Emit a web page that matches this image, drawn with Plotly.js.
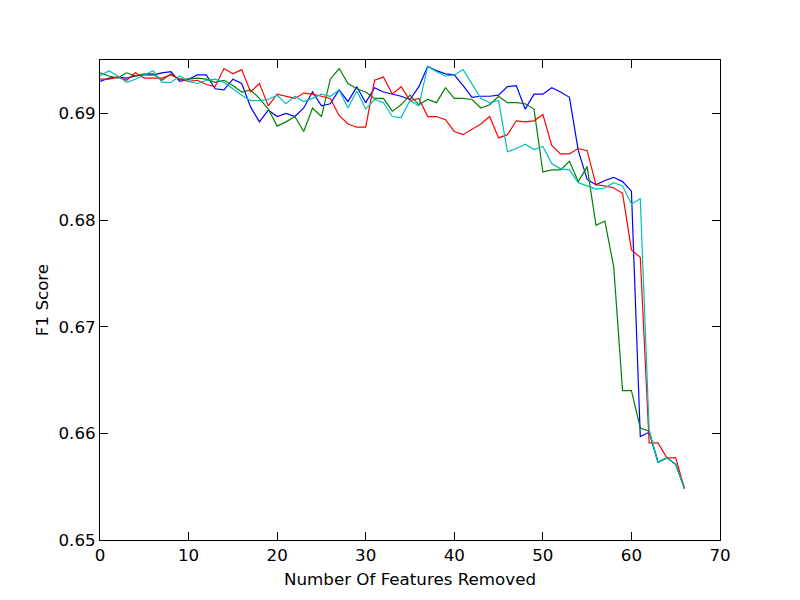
<!DOCTYPE html>
<html>
<head>
<meta charset="utf-8">
<script src="https://cdn.plot.ly/plotly-3.0.1.min.js"></script>
<style>body{margin:0;padding:0;background:#fff;}#chart{width:800px;height:600px;}</style>
</head>
<body>
<div id="chart"></div>
<script>
const featuresRemoved = Array.from({length: 67}, (_, i) => i);

const blueScores = [0.6930,0.6933,0.6934,0.6933,0.6935,0.6936,0.6936,0.6938,0.6939,0.6930,
  0.6932,0.6936,0.6936,0.6923,0.6922,0.6932,0.6928,0.6906,0.6892,0.6903,
  0.6897,0.6900,0.6897,0.6905,0.6920,0.6907,0.6909,0.6922,0.6911,0.6925,
  0.6910,0.6924,0.6920,0.6918,0.6916,0.6913,0.6925,0.6944,0.6940,0.6937,
  0.6936,0.6926,0.6915,0.6916,0.6916,0.6917,0.6925,0.6926,0.6904,0.6918,
  0.6918,0.6924,0.6920,0.6915,0.6865,0.6838,0.6833,0.6837,0.6840,0.6836,
  0.6827,0.6597,0.6601,0.6573,0.6577,0.6571,0.6548];

const greenScores = [0.6938,0.6935,0.6933,0.6938,0.6935,0.6937,0.6937,0.6931,0.6937,0.6932,
  0.6932,0.6933,0.6932,0.6929,0.6931,0.6926,0.6920,0.6922,0.6914,0.6904,
  0.6888,0.6892,0.6897,0.6883,0.6905,0.6897,0.6932,0.6942,0.6928,0.6923,
  0.6920,0.6914,0.6914,0.6902,0.6908,0.6917,0.6908,0.6913,0.6910,0.6924,
  0.6914,0.6914,0.6913,0.6905,0.6908,0.6916,0.6910,0.6910,0.6909,0.6904,
  0.6845,0.6847,0.6847,0.6855,0.6836,0.6850,0.6795,0.6799,0.6756,0.6640,
  0.6640,0.6605,0.6602,0.6573,0.6577,0.6571,0.6548];

const redScores = [0.6932,0.6932,0.6934,0.6931,0.6938,0.6933,0.6933,0.6933,0.6936,0.6932,
  0.6930,0.6931,0.6927,0.6925,0.6942,0.6937,0.6941,0.6920,0.6928,0.6907,
  0.6918,0.6916,0.6914,0.6919,0.6918,0.6916,0.6914,0.6898,0.6890,0.6887,
  0.6887,0.6931,0.6934,0.6918,0.6925,0.6912,0.6914,0.6897,0.6897,0.6894,
  0.6883,0.6880,0.6885,0.6890,0.6897,0.6877,0.6880,0.6893,0.6892,0.6893,
  0.6899,0.6870,0.6862,0.6862,0.6867,0.6865,0.6833,0.6832,0.6830,0.6825,
  0.6772,0.6765,0.6591,0.6591,0.6577,0.6577,0.6548];

const cyanScores = [0.6935,0.6940,0.6935,0.6929,0.6932,0.6936,0.6940,0.6929,0.6929,0.6935,
  0.6930,0.6928,0.6931,0.6932,0.6929,0.6923,0.6917,0.6912,0.6912,0.6913,
  0.6917,0.6909,0.6916,0.6911,0.6914,0.6918,0.6916,0.6922,0.6905,0.6921,
  0.6904,0.6913,0.6910,0.6897,0.6896,0.6912,0.6907,0.6944,0.6939,0.6935,
  0.6936,0.6941,0.6928,0.6914,0.6910,0.6912,0.6864,0.6867,0.6871,0.6866,
  0.6869,0.6853,0.6848,0.6847,0.6835,0.6832,0.6829,0.6830,0.6835,0.6832,
  0.6815,0.6820,0.6603,0.6573,0.6577,0.6571,0.6548];

const xTicks = [0, 10, 20, 30, 40, 50, 60, 70];
const yTicks = [0.65, 0.66, 0.67, 0.68, 0.69];

const series = [
  {y: blueScores, color: '#0000ff'},
  {y: greenScores, color: '#008000'},
  {y: redScores, color: '#ff0000'},
  {y: cyanScores, color: '#00bfbf'}
];

const data = series.map(s => ({
  x: featuresRemoved, y: s.y, type: 'scatter', mode: 'lines',
  line: {color: s.color, width: 1.2}, showlegend: false, hoverinfo: 'skip'
}));

const FS = 16.7;
const axisCommon = {
  showgrid: false, zeroline: false, showline: true, linecolor: '#000', linewidth: 1,
  mirror: 'ticks', ticks: 'inside', ticklen: 8, tickwidth: 1, tickcolor: '#000',
  tickfont: {family: 'DejaVu Sans', size: FS, color: '#000'}
};

const layout = {
  width: 800, height: 600,
  margin: {l: 100, r: 80, t: 60, b: 60, pad: 0},
  paper_bgcolor: '#fff', plot_bgcolor: '#fff',
  font: {family: 'DejaVu Sans', color: '#000'},
  xaxis: Object.assign({}, axisCommon, {
    range: [0, 70], tickvals: xTicks, ticktext: xTicks.map(String),
    title: {text: 'Number Of Features Removed', font: {family: 'DejaVu Sans', size: FS}, standoff: 9}
  }),
  yaxis: Object.assign({}, axisCommon, {
    range: [0.65, 0.695], tickvals: yTicks, ticktext: yTicks.map(v => v.toFixed(2)),
    title: {text: 'F1 Score', font: {family: 'DejaVu Sans', size: FS}, standoff: 5}
  })
};

Plotly.newPlot('chart', data, layout, {staticPlot: true});
</script>
</body>
</html>
